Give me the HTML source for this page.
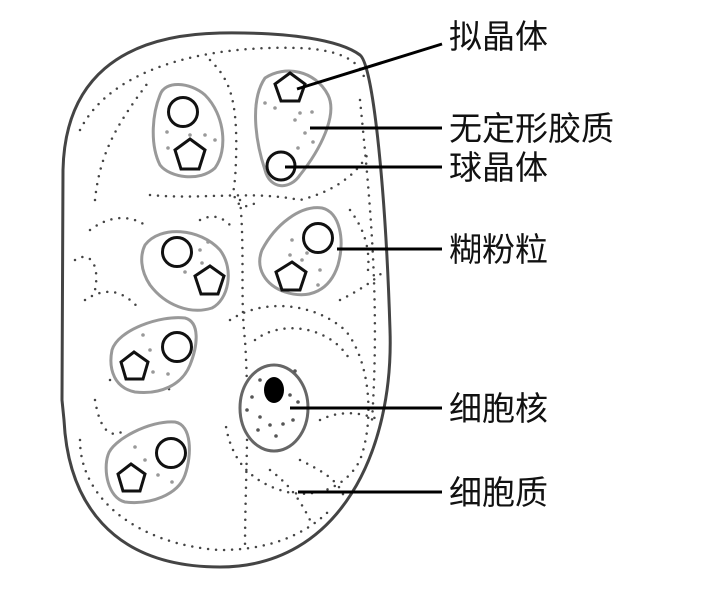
<!DOCTYPE html>
<html><head><meta charset="utf-8"><style>
html,body{margin:0;padding:0;background:#fff;width:706px;height:592px;overflow:hidden}
svg{display:block}
text{font-family:"Liberation Sans","Noto Sans CJK SC",sans-serif;font-size:33px;fill:#111}
</style></head><body>
<svg width="706" height="592" viewBox="0 0 706 592" xmlns="http://www.w3.org/2000/svg">
<rect width="706" height="592" fill="#fff"/>
<path d="M62,400 L63,170 C65,80 120,35 220,33 C290,32 340,40 360,55 C374,66 386,200 390,330 C394,450 340,567 220,567 C110,567 68,500 64,420 Z" fill="#fff" stroke="#444" stroke-width="3"/>
<g fill="none" stroke="#444" stroke-width="2.5" stroke-linecap="round" stroke-dasharray="0 8">
<path d="M80,130 C110,70 200,45 300,48 C340,50 360,60 365,80"/>
<path d="M95,200 C100,150 120,120 150,80"/>
<path d="M210,60 C230,80 240,100 235,180 C230,200 240,215 260,200"/>
<path d="M150,195 C200,200 250,190 300,200 C340,190 360,170 370,150"/>
<path d="M240,200 C245,250 240,300 245,340 C250,420 245,480 245,550"/>
<path d="M90,230 C110,215 130,215 145,225"/>
<path d="M85,300 C100,290 120,285 140,310"/>
<path d="M95,400 C100,430 110,440 125,430"/>
<path d="M80,440 C80,500 140,545 220,550 C260,550 300,540 330,510"/>
<path d="M230,320 C260,300 310,300 345,330 C370,360 375,420 360,460 C345,490 310,500 280,490 C250,480 230,460 225,420"/>
<path d="M255,340 C280,320 330,325 350,360"/>
<path d="M300,460 C320,470 340,480 345,500"/>
<path d="M360,100 C370,200 380,300 372,420"/>
<path d="M340,300 C360,290 375,280 385,270"/>
<path d="M110,380 C130,370 150,372 170,390"/>
<path d="M200,220 C210,215 220,215 230,225"/>
<path d="M320,420 C340,410 360,412 380,420"/>
<path d="M270,470 C290,485 300,500 310,520"/>
<path d="M75,260 C90,250 100,265 95,290"/>
<path d="M350,210 C365,230 370,250 368,270"/>
</g>
<g fill="#fff" stroke="#999" stroke-width="3">
<path d="M160,95 C165,80 190,82 205,95 C225,115 228,150 215,168 C200,182 170,178 160,165 C150,145 152,115 160,95 Z"/>
<path d="M265,78 C285,65 315,70 328,95 C338,115 320,150 300,175 C290,190 270,190 265,170 C255,140 250,100 265,78 Z"/>
<path d="M145,245 C160,225 200,228 220,250 C235,270 228,300 212,308 C190,315 165,305 150,285 C140,270 140,255 145,245 Z"/>
<path d="M262,250 C275,225 300,205 322,208 C340,212 345,240 338,265 C330,290 310,300 285,292 C265,285 255,268 262,250 Z"/>
<path d="M112,350 C118,330 160,315 185,318 C200,322 198,345 190,365 C182,385 160,395 135,392 C115,388 108,370 112,350 Z"/>
<path d="M108,455 C112,440 150,420 175,422 C192,425 192,455 185,475 C178,495 150,505 125,502 C108,498 103,470 108,455 Z"/>
</g>
<g fill="#999">
<circle cx="167" cy="132" r="1.8"/><circle cx="205" cy="135" r="1.8"/><circle cx="215" cy="140" r="1.8"/><circle cx="168" cy="148" r="1.8"/><circle cx="190" cy="135" r="1.8"/>
<circle cx="265" cy="103" r="1.8"/><circle cx="275" cy="108" r="1.8"/><circle cx="300" cy="113" r="1.8"/><circle cx="295" cy="120" r="1.8"/><circle cx="305" cy="133" r="1.8"/><circle cx="298" cy="148" r="1.8"/><circle cx="313" cy="142" r="1.8"/><circle cx="312" cy="112" r="1.8"/>
<circle cx="200" cy="250" r="1.8"/><circle cx="202" cy="263" r="1.8"/><circle cx="185" cy="272" r="1.8"/><circle cx="208" cy="242" r="1.8"/>
<circle cx="292" cy="240" r="1.8"/><circle cx="290" cy="255" r="1.8"/><circle cx="302" cy="260" r="1.8"/><circle cx="320" cy="270" r="1.8"/><circle cx="318" cy="285" r="1.8"/><circle cx="307" cy="253" r="1.8"/>
<circle cx="143" cy="335" r="1.8"/><circle cx="150" cy="350" r="1.8"/><circle cx="153" cy="372" r="1.8"/><circle cx="168" cy="374" r="1.8"/>
<circle cx="135" cy="447" r="1.8"/><circle cx="145" cy="460" r="1.8"/><circle cx="158" cy="475" r="1.8"/><circle cx="172" cy="482" r="1.8"/>
</g>
<g fill="none" stroke="#111" stroke-width="3">
<circle cx="183" cy="112" r="14.5"/>
<polygon points="190,139 205,150 199,169 181,169 175,150"/>
<polygon points="290,73 305,84 299,101 281,101 275,84"/>
<circle cx="281" cy="166" r="14"/>
<circle cx="177" cy="252" r="14.5"/>
<polygon points="210,266 224,276 218,294 201,294 195,276"/>
<circle cx="318" cy="238" r="14.5"/>
<polygon points="292,262 306,272 300,290 282,290 276,272"/>
<circle cx="177" cy="347" r="14.5"/>
<polygon points="134,352 148,362 143,379 126,379 121,362"/>
<circle cx="171" cy="453" r="14.5"/>
<polygon points="131,464 145,474 140,491 123,491 118,474"/>
</g>
<ellipse cx="274" cy="408" rx="34" ry="43" fill="#fff" stroke="#666" stroke-width="3"/>
<ellipse cx="274" cy="390" rx="10" ry="13" fill="#000"/>
<g fill="#555">
<circle cx="252" cy="397" r="1.8"/><circle cx="260" cy="380" r="1.8"/><circle cx="290" cy="395" r="1.8"/><circle cx="298" cy="402" r="1.8"/><circle cx="260" cy="417" r="1.8"/><circle cx="270" cy="425" r="1.8"/><circle cx="283" cy="424" r="1.8"/><circle cx="293" cy="420" r="1.8"/><circle cx="258" cy="430" r="1.8"/><circle cx="276" cy="436" r="1.8"/><circle cx="295" cy="371" r="1.8"/><circle cx="247" cy="410" r="1.8"/>
</g>
<g stroke="#000" stroke-width="3">
<line x1="297" y1="89" x2="442" y2="44"/>
<line x1="310" y1="128" x2="442" y2="128"/>
<line x1="285" y1="167" x2="442" y2="167"/>
<line x1="337" y1="249" x2="442" y2="249"/>
<line x1="290" y1="408" x2="442" y2="408"/>
<line x1="298" y1="492" x2="442" y2="492"/>
</g>
<text x="449" y="48">拟晶体</text>
<text x="449" y="140">无定形胶质</text>
<text x="449" y="179">球晶体</text>
<text x="449" y="261">糊粉粒</text>
<text x="449" y="420">细胞核</text>
<text x="449" y="504">细胞质</text>
</svg>
</body></html>
